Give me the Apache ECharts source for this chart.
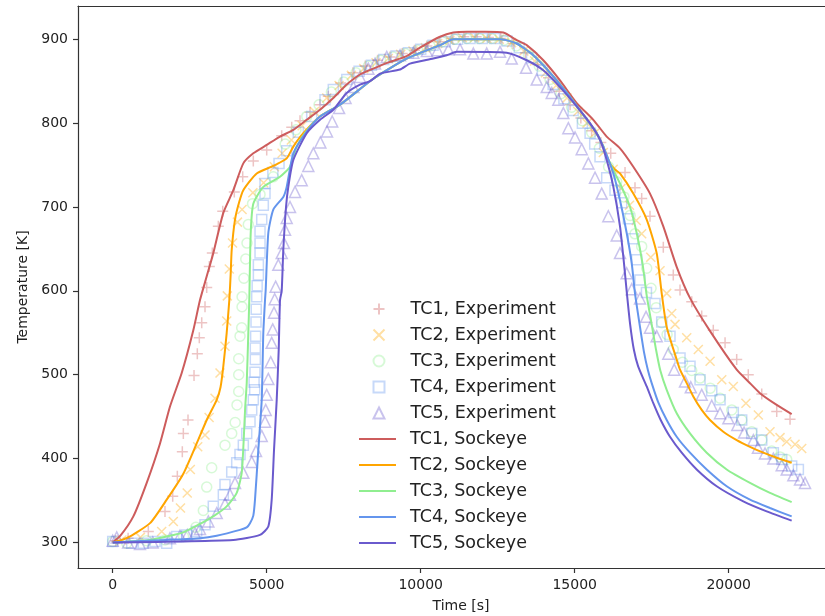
<!DOCTYPE html>
<html>
<head>
<meta charset="utf-8">
<script src="https://cdn.jsdelivr.net/npm/echarts@6/dist/echarts.min.js"></script>
<style>
html,body{margin:0;padding:0;background:#fff;}
#chart{width:825px;height:616px;}
</style>
</head>
<body>
<div id="chart"></div>
<script>
// ---- data: [time (s), temperature (K)] ----
const tc1Exp = [[100,302],[500,305],[1156,313],[1698,337],[1948,355],[2098,379],[2260,408],[2293,430],[2445,446],[2640,499],[2747,525],[2812,544],[2890,562],[2997,581],[3052,604],[3137,629],[3234,645],[3429,677],[3572,695],[3948,718],[4221,736],[4565,755],[5000,768],[5487,785],[5812,795],[6081,803],[6406,813],[6731,822],[7000,832],[7400,848],[7800,860],[8200,868],[8600,875],[9000,879],[9400,883],[9800,887],[10200,892],[10600,897],[11000,901],[11400,903],[11800,903],[12200,902],[12600,901],[13000,895],[13400,884],[13800,870],[14150,854],[14500,838],[14850,822],[15200,806],[15550,791],[15850,777],[16170,764],[16634,741],[16958,723],[17175,710],[17445,689],[17877,652],[18201,619],[18420,601],[18800,587],[19124,570],[19500,553],[19882,538],[20260,518],[20636,500],[21073,477],[21560,456],[21992,447]];
const tc2Exp = [[300,303],[900,306],[1590,313],[1968,325],[2200,341],[2420,359],[2520,387],[2760,414],[2997,428],[3130,449],[3322,472],[3484,502],[3646,534],[3701,564],[3721,594],[3786,626],[3890,657],[4050,682],[4200,697],[4550,717],[4900,729],[5250,748],[5500,764],[5800,780],[6150,797],[6550,814],[6950,830],[7350,845],[7750,857],[8150,865],[8550,872],[8950,877],[9350,882],[9750,886],[10150,890],[10550,895],[10950,899],[11350,902],[11750,902],[12150,901],[12550,900],[12950,896],[13350,886],[13700,874],[14050,860],[14400,845],[14750,830],[15100,814],[15400,800],[15650,788],[15930,765],[16250,745],[16500,722],[16780,702],[17000,684],[17175,668],[17470,640],[17770,624],[17987,597],[18150,573],[18258,560],[18637,544],[19014,530],[19396,516],[19775,494],[20150,486],[20560,466],[20963,452],[21341,432],[21667,425],[21884,420],[22154,417],[22371,412]];
const tc3Exp = [[0,301],[455,299],[1100,302],[1700,303],[2300,307],[2700,318],[2942,338],[3052,366],[3214,389],[3646,416],[3864,430],[3976,443],[4036,464],[4091,480],[4091,500],[4091,519],[4134,546],[4188,556],[4199,581],[4200,593],[4260,615],[4320,638],[4360,657],[4403,679],[4540,704],[4783,715],[5214,736],[5600,775],[5950,792],[6300,808],[6700,822],[7100,837],[7500,849],[7900,860],[8300,868],[8700,875],[9100,879],[9500,883],[9900,887],[10300,892],[10700,897],[11100,900],[11500,901],[11900,901],[12300,901],[12700,899],[13100,892],[13500,881],[13850,868],[14200,852],[14550,835],[14900,819],[15250,803],[15550,789],[15800,770],[16100,748],[16365,730],[16600,712],[16800,690],[16958,668],[17175,653],[17338,627],[17480,603],[17650,580],[17825,562],[18000,548],[18201,530],[18500,515],[18800,505],[19070,496],[19400,484],[19720,472],[20100,458],[20423,446],[20748,432],[21073,422],[21396,409],[21667,402],[21884,399]];
const tc4Exp = [[0,301],[617,299],[994,299],[1374,301],[1753,299],[2078,307],[2400,309],[2727,313],[2997,321],[3266,343],[3591,357],[3646,369],[3864,384],[4026,395],[4133,405],[4241,416],[4351,430],[4458,444],[4513,458],[4565,470],[4610,482],[4590,491],[4620,503],[4630,518],[4630,532],[4640,546],[4653,563],[4660,578],[4675,593],[4690,606],[4729,619],[4729,631],[4783,645],[4783,657],[4783,671],[4838,685],[4890,702],[4945,716],[4945,728],[5200,741],[5400,752],[5650,767],[6026,789],[6461,808],[6893,828],[7162,840],[7600,852],[8000,862],[8400,869],[8800,876],[9200,880],[9600,884],[10000,888],[10400,893],[10800,897],[11200,900],[11600,901],[12000,901],[12400,901],[12800,898],[13200,890],[13600,878],[13950,863],[14300,846],[14650,829],[14950,815],[15250,800],[15500,788],[15650,775],[15822,760],[16039,735],[16309,720],[16527,705],[16742,686],[16900,662],[17013,637],[17120,613],[17330,598],[17607,585],[17825,563],[18094,546],[18420,520],[18744,510],[19070,494],[19450,481],[19720,470],[20150,455],[20423,446],[20748,430],[21073,422],[21450,407],[21722,399],[22045,391],[22262,387]];
const tc5Exp = [[0,302],[130,306],[500,300],[886,298],[1300,300],[1860,305],[2185,308],[2423,309],[2672,311],[2834,316],[3105,325],[3377,335],[3646,346],[3809,357],[3971,371],[4241,383],[4513,396],[4653,409],[4838,427],[4945,444],[4967,458],[5000,476],[5052,495],[5130,515],[5162,538],[5195,554],[5237,574],[5260,590],[5290,605],[5377,631],[5487,645],[5562,657],[5595,673],[5649,687],[5757,700],[5919,718],[6136,732],[6351,749],[6514,764],[6742,777],[6958,790],[7127,802],[7350,818],[7560,830],[7812,843],[8029,855],[8300,865],[8517,871],[8897,879],[9330,881],[9760,884],[10200,886],[10550,887],[10900,888],[11277,888],[11710,883],[12144,883],[12575,885],[12955,877],[13421,866],[13767,852],[14092,843],[14254,836],[14469,828],[14631,812],[14794,794],[15011,783],[15228,769],[15443,752],[15660,735],[15877,716],[16093,689],[16365,666],[16471,645],[16688,621],[16851,602],[17120,591],[17316,569],[17445,556],[17662,546],[18040,525],[18230,506],[18582,492],[18770,485],[19124,476],[19450,463],[19720,454],[19990,448],[20280,440],[20500,431],[20801,422],[20950,413],[21180,406],[21450,400],[21722,392],[21884,387],[22100,380],[22316,375],[22479,371]];

const tc1Sim = [[0,300],[250,308],[670,331],[1104,371],[1536,418],[1860,462],[2240,502],[2617,553],[2834,589],[3050,617],[3266,645],[3591,693],[3916,720],[4240,752],[4565,764],[5000,774],[5432,784],[5864,792],[6299,804],[6731,816],[7162,830],[7597,846],[8029,858],[8461,865],[9000,873],[9545,880],[9977,890],[10627,903],[11058,908],[11500,909],[12100,909],[12682,908],[13117,899],[13442,893],[13981,875],[14523,851],[15065,824],[15604,804],[16039,784],[16471,770],[16903,748],[17445,716],[17877,677],[18308,629],[18750,591],[19396,552],[20260,506],[20636,492],[21016,478],[21558,464],[22045,453]];
const tc2Sim = [[0,300],[455,305],[1211,323],[1753,351],[2293,382],[2727,418],[3052,446],[3377,470],[3500,485],[3591,510],[3701,550],[3786,589],[3830,620],[3864,649],[3971,685],[4100,705],[4240,720],[4675,740],[5214,749],[5649,758],[5864,772],[6188,788],[6731,808],[7380,822],[8461,853],[9545,877],[10627,893],[11058,900],[12600,900],[13117,895],[13656,881],[14205,860],[14747,836],[15279,810],[15714,788],[15928,772],[16146,752],[16300,745],[16471,740],[16903,716],[17338,685],[17662,645],[17825,597],[17987,557],[18312,518],[18419,506],[18636,490],[18851,474],[19123,458],[19393,446],[19825,432],[20260,422],[20692,414],[21123,407],[21558,401],[22045,395]];
const tc3Sim = [[0,300],[1211,303],[1753,307],[2293,312],[2834,322],[3300,332],[3701,343],[4026,359],[4188,383],[4250,420],[4300,460],[4351,490],[4403,550],[4435,590],[4481,669],[4565,704],[4890,724],[5432,736],[5756,748],[5974,772],[6299,791],[6731,808],[7380,822],[8461,853],[9545,877],[10627,893],[11058,900],[12600,900],[13117,895],[13656,881],[14205,860],[14747,836],[15279,810],[15714,788],[15928,772],[16039,760],[16471,728],[16796,700],[17013,669],[17200,633],[17340,594],[17500,560],[17640,530],[17780,505],[17987,482],[18312,454],[18744,430],[19286,407],[19935,387],[20692,371],[21341,359],[22045,348]];
const tc4Sim = [[0,300],[1753,303],[2834,305],[3377,308],[4133,315],[4351,318],[4458,323],[4565,332],[4620,351],[4727,410],[4838,470],[4890,550],[4945,589],[4967,601],[5052,669],[5214,697],[5539,712],[5649,724],[5864,764],[6299,790],[6731,808],[7380,822],[8461,853],[9545,877],[10627,893],[11058,900],[12600,900],[13117,895],[13656,881],[14205,860],[14747,836],[15279,810],[15714,788],[15928,772],[16255,740],[16471,708],[16688,669],[16851,633],[16958,597],[17120,557],[17250,527],[17380,505],[17500,490],[17714,467],[17987,446],[18312,426],[18744,407],[19286,387],[19935,367],[20692,351],[21341,341],[22045,331]];
const tc5Sim = [[0,300],[3916,303],[4782,309],[5052,319],[5162,351],[5237,410],[5325,470],[5390,530],[5432,589],[5487,600],[5539,649],[5627,700],[5701,724],[5864,756],[6299,788],[6731,804],[7162,816],[7597,836],[8029,846],[8354,850],[8679,859],[9328,864],[9652,871],[10409,877],[10844,881],[11169,885],[12792,884],[13442,875],[13981,863],[14523,843],[15065,820],[15497,800],[15822,780],[16039,756],[16255,724],[16471,677],[16600,633],[16700,595],[16800,560],[16920,530],[17060,510],[17338,486],[17552,466],[17792,446],[18094,426],[18474,407],[18961,387],[19610,367],[20474,349],[21234,337],[22045,326]];

const xTicks = [0, 5000, 10000, 15000, 20000];
const yTicks = [300, 400, 500, 600, 700, 800, 900];
const expNames = ['TC1, Experiment','TC2, Experiment','TC3, Experiment','TC4, Experiment','TC5, Experiment'];
const simNames = ['TC1, Sockeye','TC2, Sockeye','TC3, Sockeye','TC4, Sockeye','TC5, Sockeye'];

// ---- styling ----
const rgb = [[205,92,92],[255,165,0],[144,238,144],[100,149,237],[106,90,205]];
const solid = c => `rgb(${c[0]},${c[1]},${c[2]})`;
const faint = c => `rgba(${c[0]},${c[1]},${c[2]},0.45)`;
const symbols = ['path://M5,0L5,10M0,5L10,5', 'path://M0,0L10,10M0,10L10,0', 'circle', 'rect', 'triangle'];
const symSizes = [11, 9, 10, 10, 11];
const expData = [tc1Exp, tc2Exp, tc3Exp, tc4Exp, tc5Exp];
const simData = [tc1Sim, tc2Sim, tc3Sim, tc4Sim, tc5Sim];
const FONT = 'DejaVu Sans';

const series = [];
expData.forEach((d, i) => {
  series.push({
    name: expNames[i], type: 'scatter', data: d,
    symbol: symbols[i], symbolSize: symSizes[i],
    itemStyle: {color: 'rgba(0,0,0,0)', borderColor: faint(rgb[i]), borderWidth: 1.5},
    emphasis: {disabled: true}, animation: false, z: 2
  });
});
simData.forEach((d, i) => {
  series.push({
    name: simNames[i], type: 'line', data: d, symbol: 'none', showSymbol: false,
    smooth: 0.2,
    lineStyle: {color: solid(rgb[i]), width: 2},
    itemStyle: {color: solid(rgb[i])},
    emphasis: {disabled: true}, animation: false, z: 3
  });
});

const plain = v => String(v);
const chart = echarts.init(document.getElementById('chart'), null, {renderer: 'canvas'});
chart.setOption({
  animation: false,
  backgroundColor: '#fff',
  grid: {left: 78, right: 0, top: 6, bottom: 48, containLabel: false, outerBoundsMode: 'none'},
  xAxis: [{
    type: 'value', min: -1127, max: 23127,
    name: 'Time [s]', nameLocation: 'middle', nameGap: 31,
    nameTextStyle: {fontFamily: FONT, fontSize: 14, color: '#222', padding: [0, 0, 0, 19]},
    axisLine: {show: true, onZero: false, lineStyle: {color: '#333', width: 1.2}},
    axisTick: {show: true, length: 5, customValues: xTicks, lineStyle: {color: '#333', width: 1.2}},
    axisLabel: {customValues: xTicks, formatter: plain, margin: 10, fontFamily: FONT, fontSize: 14, color: '#222'},
    splitLine: {show: false}
  }, {
    type: 'value', position: 'top', min: -1127, max: 23127,
    axisLine: {show: true, onZero: false, lineStyle: {color: '#333', width: 1.2}},
    axisTick: {show: false}, axisLabel: {show: false}, splitLine: {show: false}
  }],
  yAxis: {
    type: 'value', min: 269.5, max: 939.7,
    name: 'Temperature [K]', nameLocation: 'middle', nameGap: 43,
    nameTextStyle: {fontFamily: FONT, fontSize: 14, color: '#222'},
    axisLine: {show: true, onZero: false, lineStyle: {color: '#333', width: 1.2}},
    axisTick: {show: true, length: 5, customValues: yTicks, lineStyle: {color: '#333', width: 1.2}},
    axisLabel: {customValues: yTicks, formatter: plain, margin: 10, fontFamily: FONT, fontSize: 14, color: '#222'},
    splitLine: {show: false}
  },
  legend: [{
    data: expNames, orient: 'vertical', left: 372.5, top: 299, padding: 0,
    itemWidth: 11, itemHeight: 11, itemGap: 6, selectedMode: false,
    textStyle: {fontFamily: FONT, fontSize: 17.5, lineHeight: 20, color: '#222', padding: [0, 0, 0, 21]}
  }, {
    data: simNames.map(n => ({name: n, icon: 'rect'})), orient: 'vertical', left: 359, top: 429, padding: 0,
    itemWidth: 37, itemHeight: 2.2, itemGap: 6, selectedMode: false,
    textStyle: {fontFamily: FONT, fontSize: 17.5, lineHeight: 20, color: '#222', padding: [0, 0, 0, 9]}
  }],
  series: series
});
</script>
</body>
</html>
